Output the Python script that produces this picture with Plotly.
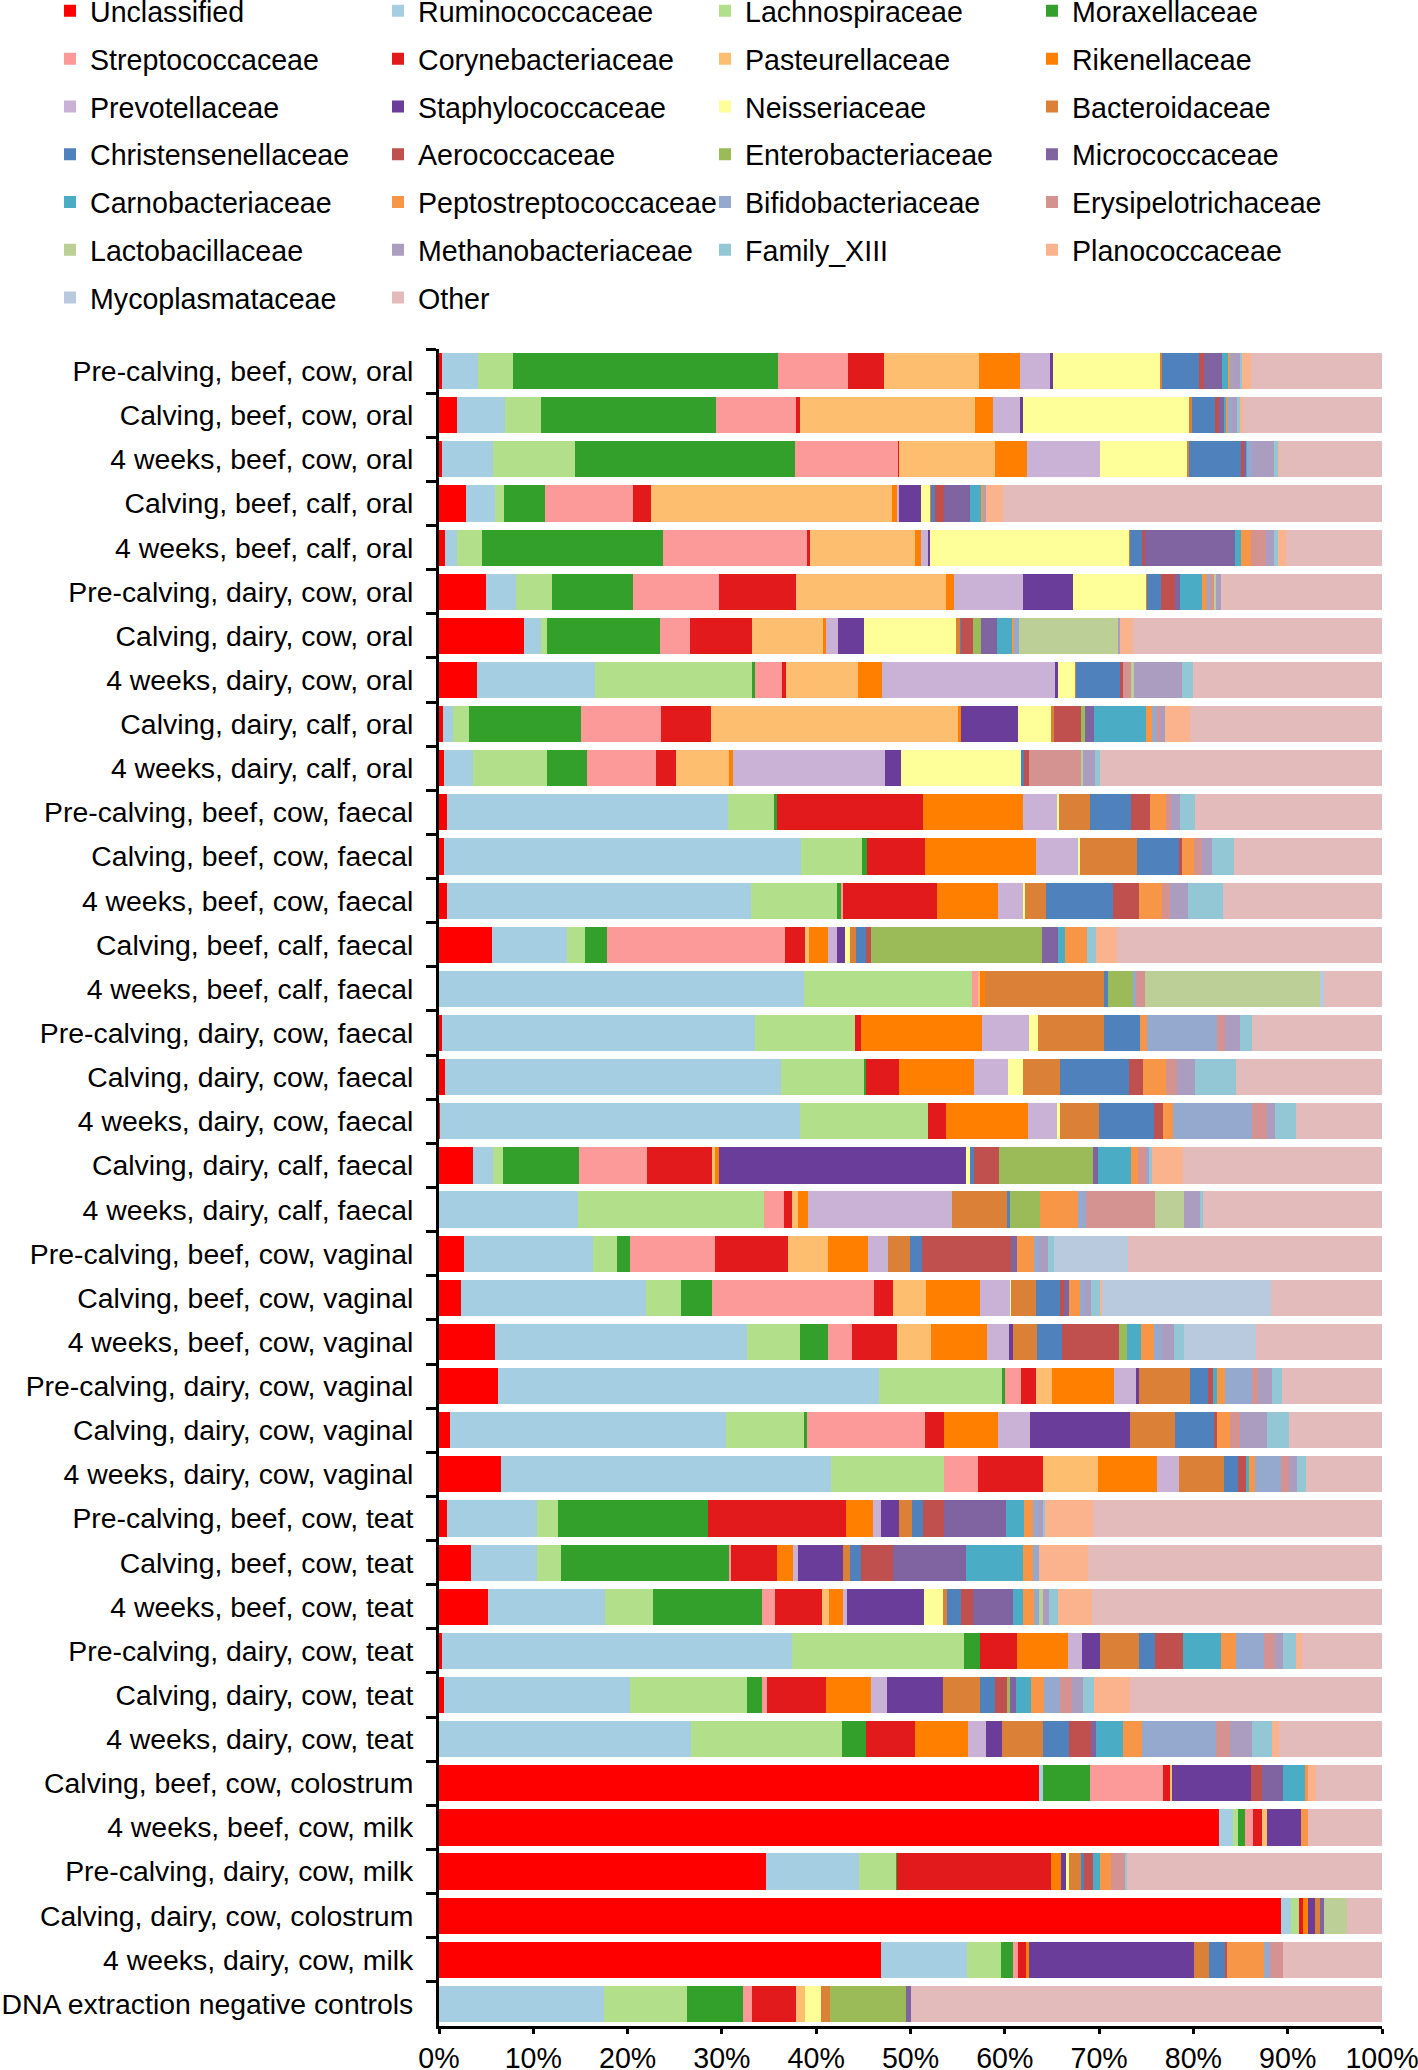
import plotly.graph_objects as go

# samples, top to bottom
samples = [
    'Pre-calving, beef, cow, oral', 'Calving, beef, cow, oral', '4 weeks, beef, cow, oral',
    'Calving, beef, calf, oral', '4 weeks, beef, calf, oral', 'Pre-calving, dairy, cow, oral',
    'Calving, dairy, cow, oral', '4 weeks, dairy, cow, oral', 'Calving, dairy, calf, oral',
    '4 weeks, dairy, calf, oral', 'Pre-calving, beef, cow, faecal', 'Calving, beef, cow, faecal',
    '4 weeks, beef, cow, faecal', 'Calving, beef, calf, faecal', '4 weeks, beef, calf, faecal',
    'Pre-calving, dairy, cow, faecal', 'Calving, dairy, cow, faecal', '4 weeks, dairy, cow, faecal',
    'Calving, dairy, calf, faecal', '4 weeks, dairy, calf, faecal', 'Pre-calving, beef, cow, vaginal',
    'Calving, beef, cow, vaginal', '4 weeks, beef, cow, vaginal', 'Pre-calving, dairy, cow, vaginal',
    'Calving, dairy, cow, vaginal', '4 weeks, dairy, cow, vaginal', 'Pre-calving, beef, cow, teat',
    'Calving, beef, cow, teat', '4 weeks, beef, cow, teat', 'Pre-calving, dairy, cow, teat',
    'Calving, dairy, cow, teat', '4 weeks, dairy, cow, teat', 'Calving, beef, cow, colostrum',
    '4 weeks, beef, cow, milk', 'Pre-calving, dairy, cow, milk', 'Calving, dairy, cow, colostrum',
    '4 weeks, dairy, cow, milk', 'DNA extraction negative controls',
]
x_ticks = [0, 10, 20, 30, 40, 50, 60, 70, 80, 90, 100]

# relative abundance (%) per family, one value per sample
unclassified = [0.3, 1.9, 0.3, 2.9, 0.6, 5.0, 9.0, 4.0, 0.4, 0.5, 0.8, 0.5, 0.8, 5.6, 0, 0.3, 0.6, 0.1, 3.6, 0, 2.7, 2.3, 5.9, 6.3, 1.2, 6.6, 0.9, 3.4, 5.2, 0.3, 0.5, 0, 63.6, 82.7, 34.7, 89.3, 46.9, 0]
ruminococcaceae = [3.8, 5.1, 5.4, 3.0, 1.3, 3.2, 1.8, 12.5, 1.1, 3.1, 29.8, 37.9, 32.3, 8.0, 38.7, 33.2, 35.7, 38.2, 2.1, 14.7, 13.6, 19.7, 26.8, 40.4, 29.2, 35.0, 9.5, 7.0, 12.4, 37.1, 19.8, 26.7, 0.5, 1.5, 9.8, 1.0, 9.1, 17.5]
lachnospiraceae = [3.7, 3.8, 8.7, 1.0, 2.7, 3.8, 0.7, 16.7, 1.7, 7.8, 5.0, 6.5, 9.1, 1.9, 17.8, 10.6, 8.8, 13.6, 1.1, 19.8, 2.6, 3.7, 5.6, 13.1, 8.4, 11.9, 2.2, 2.5, 5.1, 18.3, 12.4, 16.0, 0, 0.5, 4.0, 0.9, 3.6, 8.8]
moraxellaceae = [28.1, 18.6, 23.3, 4.3, 19.2, 8.6, 11.9, 0.3, 11.9, 4.3, 0.2, 0.5, 0.5, 2.3, 0, 0, 0.2, 0, 8.0, 0, 1.4, 3.2, 3.0, 0.2, 0.2, 0, 15.9, 17.8, 11.5, 1.7, 1.5, 2.6, 4.9, 0.8, 0.1, 0, 1.3, 5.9]
streptococcaceae = [7.5, 8.5, 11.0, 9.4, 15.3, 9.1, 3.2, 2.9, 8.4, 7.3, 0, 0, 0.1, 18.9, 0.7, 0, 0, 0, 7.3, 2.1, 9.0, 17.2, 2.5, 1.7, 12.5, 3.7, 0, 0.3, 1.4, 0, 0.6, 0, 7.8, 0.8, 0, 0, 0.5, 1.0]
corynebacteriaceae = [3.8, 0.4, 0.1, 1.9, 0.2, 8.2, 6.6, 0.4, 5.3, 2.1, 15.5, 6.1, 10.0, 2.1, 0, 0.7, 3.5, 1.9, 6.9, 0.8, 7.7, 2.0, 4.8, 1.6, 2.0, 6.8, 14.7, 4.8, 5.0, 3.9, 6.2, 5.2, 0.8, 1.0, 16.3, 0.4, 0.8, 4.7]
pasteurellaceae = [10.1, 18.5, 10.2, 25.5, 11.2, 15.9, 7.5, 7.6, 26.2, 5.6, 0, 0, 0, 0.4, 0.2, 0, 0, 0, 0.3, 0.7, 4.2, 3.5, 3.6, 1.7, 0, 5.9, 0, 0, 0.8, 0, 0, 0, 0.1, 0.5, 0, 0, 0, 0.9]
rikenellaceae = [4.3, 2.0, 3.4, 0.6, 0.6, 0.8, 0.3, 2.6, 0.4, 0.5, 10.6, 11.8, 6.5, 2.1, 0.5, 12.8, 7.9, 8.7, 0.4, 1.0, 4.3, 5.8, 5.9, 6.6, 5.8, 6.2, 2.8, 1.7, 1.4, 5.4, 4.8, 5.6, 0, 0, 1.1, 0.5, 0.4, 0]
prevotellaceae = [3.2, 2.9, 7.7, 0.2, 0.8, 7.3, 1.3, 18.3, 0, 16.1, 3.6, 4.5, 2.7, 0.9, 0, 5.0, 3.6, 3.0, 0, 15.3, 2.1, 3.2, 2.3, 2.3, 3.4, 2.4, 0.9, 0.6, 0.5, 1.5, 1.7, 1.9, 0, 0, 0, 0, 0, 0]
staphylococcaceae = [0.3, 0.2, 0, 2.3, 0.2, 5.3, 2.8, 0.3, 6.0, 1.7, 0, 0, 0, 0.9, 0, 0, 0, 0, 26.2, 0, 0, 0, 0.5, 0.3, 10.6, 0, 1.9, 4.7, 8.1, 1.9, 5.9, 1.7, 8.4, 3.6, 0.5, 0.8, 17.5, 0]
neisseriaceae = [11.4, 17.6, 9.3, 1.0, 21.1, 7.8, 9.7, 1.9, 3.5, 12.8, 0.3, 0.2, 0.1, 0.5, 0, 0.9, 1.6, 0.4, 0.4, 0, 0, 0.1, 0, 0, 0, 0, 0, 0, 2.0, 0, 0, 0, 0, 0, 0.3, 0, 0, 1.7]
bacteroidaceae = [0.2, 0.3, 0.1, 0.1, 0.1, 0.1, 0.5, 0.1, 0.3, 0, 3.2, 6.0, 2.3, 0.6, 12.6, 7.0, 4.0, 4.1, 0, 5.9, 2.3, 2.6, 2.5, 5.4, 4.8, 4.7, 1.4, 0.8, 0.5, 4.1, 4.0, 4.4, 0, 0, 1.3, 0.5, 1.6, 1.0]
christensenellaceae = [3.9, 2.5, 5.6, 0.4, 1.3, 1.5, 0.1, 4.7, 0, 0.2, 4.4, 4.5, 7.1, 1.1, 0.4, 3.8, 7.3, 5.8, 0.4, 0.2, 1.3, 2.6, 2.7, 1.9, 4.1, 1.5, 1.1, 1.2, 1.5, 1.7, 1.6, 2.7, 0, 0, 0.3, 0, 1.6, 0]
aerococcaceae = [0.5, 0.4, 0.3, 0.9, 0.3, 1.4, 1.2, 0.2, 2.9, 0.6, 2.0, 0.3, 2.7, 0.5, 0, 0, 1.5, 1.0, 2.7, 0, 9.5, 0.4, 6.0, 0.6, 0.3, 0.9, 2.3, 3.3, 1.2, 3.0, 1.2, 2.3, 1.2, 0, 0.9, 0, 0.3, 0]
enterobacteriaceae = [0, 0, 0, 0, 0, 0, 0.9, 0, 0.4, 0, 0, 0, 0, 18.1, 2.7, 0, 0, 0, 10.0, 3.2, 0, 0, 0.9, 0, 0, 0, 0, 0, 0, 0, 0.3, 0, 0, 0, 0, 0, 0, 8.0]
micrococcaceae = [1.9, 0.5, 0.2, 2.8, 9.5, 0.6, 1.7, 0, 1.0, 0, 0, 0, 0, 1.7, 0, 0, 0, 0, 0.5, 0, 0.6, 0.5, 0, 0, 0, 0, 6.5, 7.8, 4.3, 0, 0.7, 0.6, 2.2, 0, 0, 0.4, 0, 0.6]
carnobacteriaceae = [0.7, 0.3, 0.1, 1.2, 0.7, 2.3, 1.6, 0, 5.5, 0, 0, 0, 0, 0.8, 0, 0, 0, 0, 3.5, 0, 0, 0, 1.4, 0.4, 0, 0.3, 1.9, 6.0, 1.0, 4.0, 1.6, 2.8, 2.3, 0, 0.8, 0, 0, 0]
peptostreptococcaceae = [0.2, 0.2, 0, 0.2, 1.0, 0.5, 0.2, 0, 0.6, 0, 1.7, 1.3, 2.5, 2.3, 0, 0.8, 2.4, 1.0, 0.7, 4.1, 1.8, 1.2, 1.4, 0.8, 1.4, 0.6, 1.0, 1.1, 1.2, 1.6, 1.4, 2.1, 0.3, 0.8, 1.2, 0, 3.9, 0]
bifidobacteriaceae = [0.3, 0.4, 0.5, 0.2, 0, 0.4, 0.5, 0, 0.5, 0, 0, 0, 0, 0, 0.3, 7.4, 0, 8.4, 0, 0.8, 0.5, 0.5, 0.9, 2.9, 0, 2.8, 0.5, 0.6, 0.5, 3.0, 1.7, 7.8, 0, 0, 0, 0, 0.6, 0]
erysipelotrichaceae = [0.1, 0, 0, 0.1, 1.6, 0.4, 0, 0.9, 0.4, 5.5, 0.5, 0.8, 0.8, 0, 1.0, 0.8, 1.2, 1.6, 0.9, 7.3, 0, 0, 0, 0.7, 1.0, 0.8, 0, 0, 0, 1.2, 1.2, 1.5, 0, 0, 1.5, 0, 1.4, 0]
lactobacillaceae = [0, 0, 0, 0, 0, 0.2, 10.6, 0.3, 0, 0.2, 0, 0, 0, 0, 18.5, 0, 0, 0, 0, 3.1, 0, 0, 0, 0, 0, 0, 0, 0, 0.4, 0, 0, 0, 0, 0, 0, 2.5, 0, 0]
methanobacteriaceae = [0.6, 0.6, 2.3, 0, 0.8, 0.5, 0.1, 5.1, 0.5, 1.3, 1.0, 1.1, 1.9, 0, 0, 1.6, 1.9, 0.8, 0.3, 1.7, 1.0, 0.6, 1.2, 1.4, 2.9, 0.9, 0.5, 0, 0.7, 0.8, 1.2, 2.3, 0, 0, 0, 0, 0, 0]
family_xiii = [0.3, 0.2, 0.5, 0, 0.5, 0, 0, 1.2, 0, 0.5, 1.6, 2.3, 3.7, 1.0, 0, 1.3, 4.3, 2.3, 0.3, 0.3, 0.6, 1.0, 1.1, 1.1, 2.3, 0.9, 0.3, 0, 0.9, 1.4, 1.2, 2.1, 0, 0, 0.2, 0, 0, 0]
planococcaceae = [0.9, 0.4, 0.1, 1.8, 0.8, 0, 1.4, 0, 2.6, 0, 0, 0, 0, 2.2, 0, 0, 0, 0, 3.3, 0, 0, 0.2, 0, 0, 0, 0, 5.0, 5.2, 3.6, 0.6, 3.8, 0.8, 0.9, 0, 0, 0, 0, 0]
mycoplasmataceae = [0, 0, 0, 0, 0, 0, 0, 0, 0, 0, 0, 0, 0, 0, 0.4, 0, 0, 0, 0, 0, 7.9, 17.9, 7.6, 0, 0, 0, 0, 0, 0, 0, 0, 0, 0, 0, 0, 0, 0, 0]
other = [13.9, 14.7, 10.9, 40.2, 10.2, 17.1, 26.4, 20.0, 20.4, 29.9, 19.8, 15.7, 16.9, 28.1, 6.2, 13.8, 15.5, 9.1, 21.1, 19.0, 26.9, 11.8, 13.4, 10.6, 9.9, 8.1, 30.7, 31.2, 30.8, 8.5, 26.7, 10.9, 7.0, 7.8, 27.0, 3.7, 10.5, 49.9]

families = [
    ('Unclassified', unclassified, '#FF0000'),
    ('Ruminococcaceae', ruminococcaceae, '#A6CEE3'),
    ('Lachnospiraceae', lachnospiraceae, '#B2DF8A'),
    ('Moraxellaceae', moraxellaceae, '#33A02C'),
    ('Streptococcaceae', streptococcaceae, '#FB9A99'),
    ('Corynebacteriaceae', corynebacteriaceae, '#E31A1C'),
    ('Pasteurellaceae', pasteurellaceae, '#FDBF6F'),
    ('Rikenellaceae', rikenellaceae, '#FF7F00'),
    ('Prevotellaceae', prevotellaceae, '#CAB2D6'),
    ('Staphylococcaceae', staphylococcaceae, '#6A3D9A'),
    ('Neisseriaceae', neisseriaceae, '#FFFF99'),
    ('Bacteroidaceae', bacteroidaceae, '#DA8137'),
    ('Christensenellaceae', christensenellaceae, '#4F81BD'),
    ('Aerococcaceae', aerococcaceae, '#C0504D'),
    ('Enterobacteriaceae', enterobacteriaceae, '#9BBB59'),
    ('Micrococcaceae', micrococcaceae, '#8064A2'),
    ('Carnobacteriaceae', carnobacteriaceae, '#4BACC6'),
    ('Peptostreptococcaceae', peptostreptococcaceae, '#F79646'),
    ('Bifidobacteriaceae', bifidobacteriaceae, '#95A9CF'),
    ('Erysipelotrichaceae', erysipelotrichaceae, '#D49391'),
    ('Lactobacillaceae', lactobacillaceae, '#BCCF96'),
    ('Methanobacteriaceae', methanobacteriaceae, '#AA9DBF'),
    ('Family_XIII', family_xiii, '#93C7D6'),
    ('Planococcaceae', planococcaceae, '#FBB38E'),
    ('Mycoplasmataceae', mycoplasmataceae, '#B9CADF'),
    ('Other', other, '#E2BBBA'),
]

FONT = 'Arial, Liberation Sans, sans-serif'
FSIZE = 28.6
legend_names = ['legend', 'legend2', 'legend3', 'legend4']

fig = go.Figure()
for i, (name, vals, color) in enumerate(families):
    fig.add_trace(go.Bar(
        x=vals, y=samples, name=name, orientation='h',
        marker=dict(color=color, line=dict(width=0)),
        legend=legend_names[i % 4], legendgroup=name,
    ))

# four legend columns, filled row by row like the original
legend_x = [-0.4125, -0.0647, 0.2821, 0.6288]
legend_layout = {}
for name, lx in zip(legend_names, legend_x):
    legend_layout[name] = dict(
        x=lx, y=1.2166, xanchor='left', yanchor='top',
        orientation='v', traceorder='grouped', tracegroupgap=7.6,
        font=dict(family=FONT, size=FSIZE, color='black'),
        bgcolor='rgba(0,0,0,0)', itemclick=False,
    )

fig.update_layout(
    barmode='stack', bargap=0.18,
    width=1418, height=2070,
    margin=dict(l=439, r=36, t=349, b=44, autoexpand=False),
    paper_bgcolor='white', plot_bgcolor='white',
    font=dict(family=FONT, size=FSIZE, color='black'),
    **legend_layout,
)

fig.update_yaxes(
    type='category', categoryorder='array', categoryarray=samples,
    autorange='reversed', automargin=False,
    showline=True, linewidth=3, linecolor='black',
    ticks='outside', tickson='boundaries', ticklen=10, tickwidth=2.5, tickcolor='black',
    ticklabelstandoff=17, showgrid=False, tickfont=dict(size=28.4),
)
fig.update_xaxes(
    range=[0, 100], tickmode='array', tickvals=x_ticks,
    ticktext=[f'{v}%' for v in x_ticks], ticklabeloverflow='allow',
    automargin=False, showline=True, linewidth=3, linecolor='black',
    ticks='outside', ticklen=5, tickwidth=2.5, tickcolor='black',
    showgrid=False, zeroline=False,
)

# drop the default page margin so the figure fills the window exactly
fig.write_html('out.html', config={'displayModeBar': False},
               post_script="document.body.style.margin='0';")
